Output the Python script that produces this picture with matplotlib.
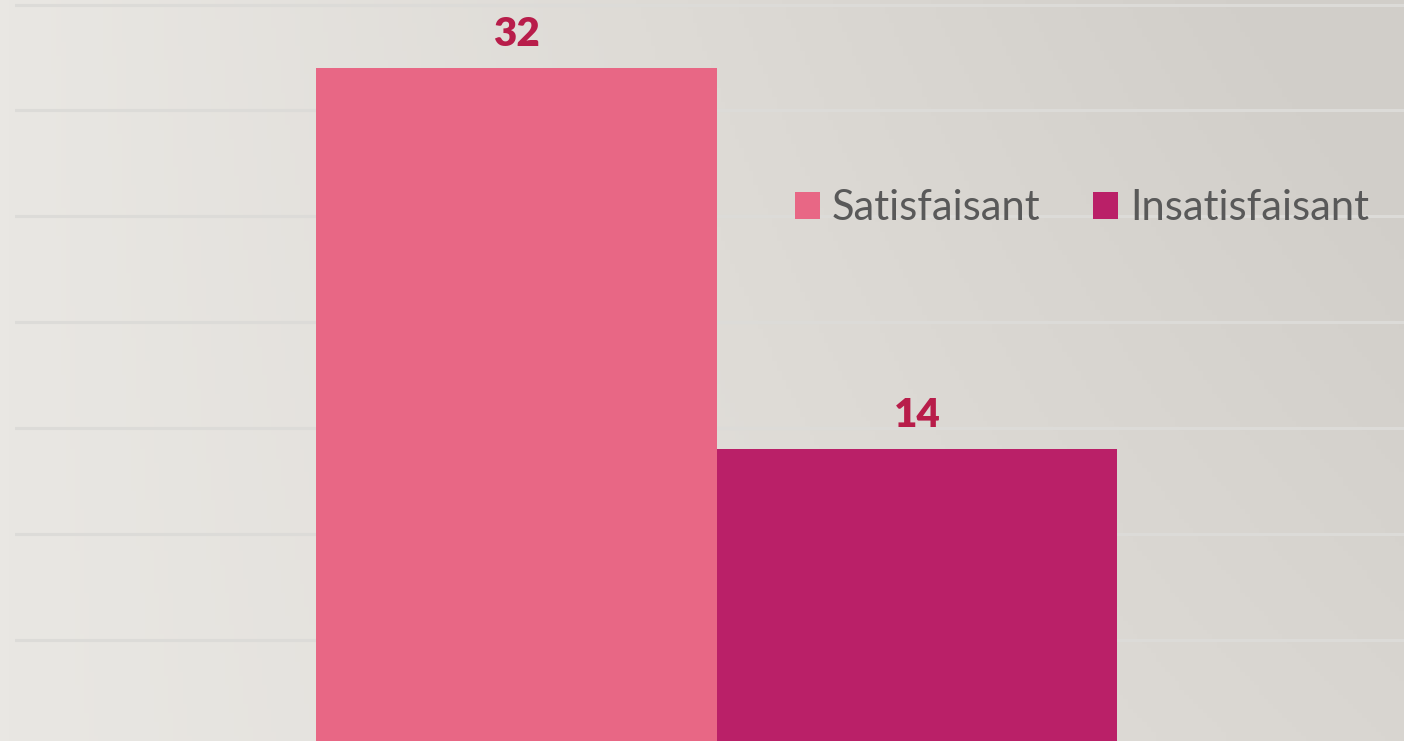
import numpy as np
import matplotlib
matplotlib.use("Agg")
import matplotlib.pyplot as plt
from matplotlib.colors import LinearSegmentedColormap

# Data
series = ["Satisfaisant", "Insatisfaisant"]
values = [32, 14]
bar_colors = ["#e86785", "#ba2068"]
label_color = "#b81d4a"
legend_text_color = "#595959"
grid_color = "#dcdbd8"
y_ticks = [5, 10, 15, 20, 25, 30, 35]

plt.rcParams["font.family"] = ["Lato", "DejaVu Sans"]

W, H, DPI = 1404, 741, 100
fig = plt.figure(figsize=(W / DPI, H / DPI), dpi=DPI)

# Background gradient (light warm grey, darker towards top right)
bg = fig.add_axes([0, 0, 1, 1], zorder=0)
xx, yy = np.meshgrid(np.linspace(0, 1, 300), np.linspace(0, 1, 160))
t = np.clip(0.7 * xx + 0.4 * yy * xx, 0, 1)
cmap = LinearSegmentedColormap.from_list("bg", ["#e9e7e3", "#dedbd6", "#d1cec9"])
bg.imshow(t, cmap=cmap, aspect="auto", origin="lower", extent=[0, 1, 0, 1], vmin=0, vmax=1)
bg.axis("off")

# Main axes: baseline sits just below the image bottom
px_per_unit = 381 / 18
baseline_px = 68 + 32 * px_per_unit
ax = fig.add_axes([15 / W, (H - baseline_px) / H, 1 - 15 / W, baseline_px / H], zorder=1)
ax.set_facecolor("none")

bar_x = [0, 1]
bars = ax.bar(bar_x, values, width=1.0, color=bar_colors, zorder=3)
unit_px = 400.5
ax.set_xlim(-(516.5 - 15) / unit_px, (1404 - 516.5) / unit_px)
ax.set_ylim(0, baseline_px / px_per_unit)

ax.set_yticks(y_ticks)
ax.yaxis.grid(True, color=grid_color, linewidth=2.2, zorder=0)
ax.tick_params(left=False, bottom=False, labelleft=False, labelbottom=False)
for s in ax.spines.values():
    s.set_visible(False)

for x, v in zip(bar_x, values):
    ax.annotate(str(v), (x, v), xytext=(0, 11), textcoords="offset points",
                ha="center", va="bottom", fontsize=29, fontweight="heavy",
                color=label_color)

leg = ax.legend(bars, series, loc="center left", bbox_to_anchor=(795 / W, 1 - 208 / H),
                bbox_transform=fig.transFigure, ncol=2, frameon=False,
                fontsize=30, handlelength=0.6, handleheight=0.6,
                handletextpad=0.29, columnspacing=1.25, borderpad=0,
                borderaxespad=0)
for txt in leg.get_texts():
    txt.set_color(legend_text_color)

fig.savefig("out.png", dpi=DPI)
